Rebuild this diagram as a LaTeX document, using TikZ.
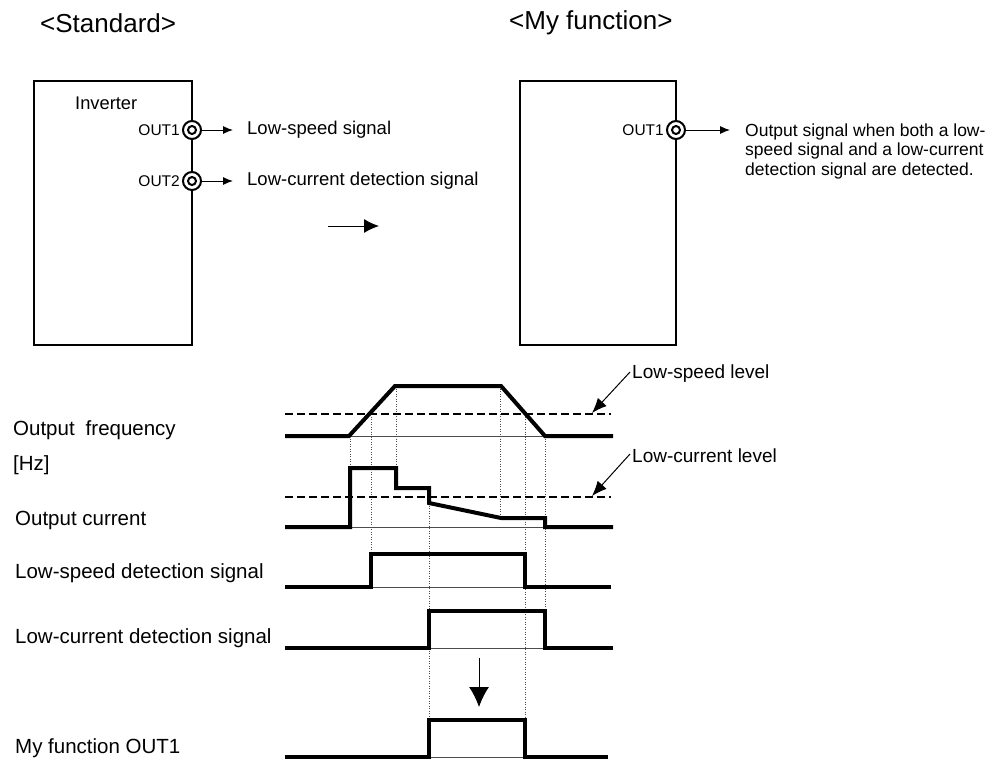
\documentclass[tikz,border=0pt]{standalone}
\usepackage{fontspec}
\setmainfont{Liberation Sans}
\usetikzlibrary{arrows.meta, positioning}

\begin{document}
\begin{tikzpicture}[x=1pt, y=-1pt,
  box/.style={rectangle, draw, line width=2pt, minimum width=158pt, minimum height=264pt},
  term/.style={circle, draw, fill=white, line width=2pt, minimum size=18pt, inner sep=0pt},
  termlbl/.style={inner sep=0pt, font=\fontsize{15.5}{18}\selectfont},
  lbl/.style={anchor=west, inner sep=0pt, font=\fontsize{18.5}{22}\selectfont},
  side/.style={anchor=west, inner sep=0pt, font=\fontsize{20.5}{24}\selectfont},
  title/.style={anchor=west, inner sep=0pt, font=\fontsize{26}{30}\selectfont},
  outarrow/.style={-{Latex[length=10pt, width=8pt]}, line width=1pt},
  ptr/.style={-{Latex[length=15pt, width=12pt]}, line width=1pt},
  wave/.style={line width=4pt, line join=miter},
  base/.style={line width=1pt, black!70},
  level/.style={line width=1.3pt, dash pattern=on 8pt off 4pt},
  guide/.style={line width=0.8pt, dash pattern=on 1pt off 1.5pt, black!70}
]
  \useasboundingbox (0,0) rectangle (999,763);

  % titles
  \node[title] (tstd) at (40,23) {<Standard>};
  \node[title] (tmy) at (509,23) {<My function>};

  % standard inverter
  \node[box] (inv) at (113,213) {};
  \node[lbl, font=\fontsize{18.3}{22}\selectfont] (invname) at (75,103) {Inverter};
  \node[term] (o1) at (192,130) {};
  \node[term] (o2) at (192,181) {};
  \draw[line width=2pt] (o1.center) circle[radius=4pt];
  \draw[line width=2pt] (o2.center) circle[radius=4pt];
  \node[termlbl, left=2pt of o1] (o1l) {OUT1};
  \node[termlbl, left=2pt of o2] (o2l) {OUT2};
  \node[lbl] (lsig) at (247,130) {Low-speed signal};
  \node[lbl] (csig) at (247,181) {Low-current detection signal};
  \draw[outarrow] (o1.east) -- ([xshift=-14pt]lsig.west);
  \draw[outarrow] (o2.east) -- ([xshift=-14pt]csig.west);

  % change arrow
  \coordinate (chA) at (328,226);
  \coordinate (chB) at (379,226);
  \draw[-{Latex[length=15pt, width=14pt]}, line width=1pt] (chA) -- (chB);

  % my function inverter
  \node[box, minimum width=156pt] (myinv) at (598,213) {};
  \node[term] (mo1) at (676,130) {};
  \draw[line width=2pt] (mo1.center) circle[radius=4pt];
  \node[termlbl, left=2pt of mo1] (mo1l) {OUT1};
  \node[lbl, align=left, font=\fontsize{17.5}{19.5}\selectfont] (mtext) at (745,151)
    {Output signal when both a low-\\speed signal and a low-current\\detection signal are detected.};
  \draw[outarrow] (mo1.east) -- ([xshift=-15pt]mo1 -| mtext.west);

  % row labels
  \node[side] (rfreq) at (13,430) {Output\hspace{11pt}frequency};
  \node[side] (rhz) at (13,465) {[Hz]};
  \node[side] (rcur) at (15,520) {Output current};
  \node[side] (rls) at (15,573) {Low-speed detection signal};
  \node[side] (rlc) at (15,638) {Low-current detection signal};
  \node[side] (rmy) at (15,748) {My function OUT1};

  % timing guides
  \draw[guide] (350,436) -- (350,468);
  \draw[guide] (371,414) -- (371,554);
  \draw[guide] (396,386) -- (396,468);
  \draw[guide] (429,503) -- (429,720);
  \draw[guide] (500,386) -- (500,518);
  \draw[guide] (525,414) -- (525,720);
  \draw[guide] (545,436) -- (545,611);

  % levels
  \draw[level] (285,414) -- (611,414);
  \draw[level] (285,497) -- (611,497);
  \node[lbl, font=\fontsize{19}{22}\selectfont] (lslvl) at (632,374) {Low-speed level};
  \node[lbl, font=\fontsize{19}{22}\selectfont] (lclvl) at (632,456) {Low-current level};
  \coordinate (lsTip) at (592,413);
  \coordinate (lcTip) at (592,496);
  \draw[ptr] ([xshift=-2pt, yshift=2pt]lslvl.west) -- (lsTip);
  \draw[ptr] ([xshift=-2pt, yshift=2pt]lclvl.west) -- (lcTip);

  % zero lines under pulses
  \draw[base] (349,436) -- (545,436);
  \draw[base] (350,527) -- (545,527);
  \draw[base] (371,587) -- (525,587);
  \draw[base] (429,648) -- (545,648);
  \draw[base] (429,757) -- (525,757);

  % waveforms
  \draw[wave] (285,436) -- (349,436) -- (395,386) -- (501,386) -- (545,436) -- (613,436);
  \draw[wave] (285,527) -- (350,527) -- (350,468) -- (396,468) -- (396,488) -- (429,488)
    -- (429,503) -- (501,518) -- (545,518) -- (545,527) -- (613,527);
  \draw[wave] (285,587) -- (371,587) -- (371,554) -- (525,554) -- (525,587) -- (611,587);
  \draw[wave] (285,648) -- (429,648) -- (429,611) -- (545,611) -- (545,648) -- (613,648);
  \draw[wave] (285,757) -- (429,757) -- (429,720) -- (525,720) -- (525,757) -- (608,757);

  % result arrow
  \coordinate (dnA) at (479,658);
  \coordinate (dnB) at (479,707);
  \draw[-{Latex[length=20pt, width=20pt]}, line width=1pt] (dnA) -- (dnB);
\end{tikzpicture}
\end{document}
